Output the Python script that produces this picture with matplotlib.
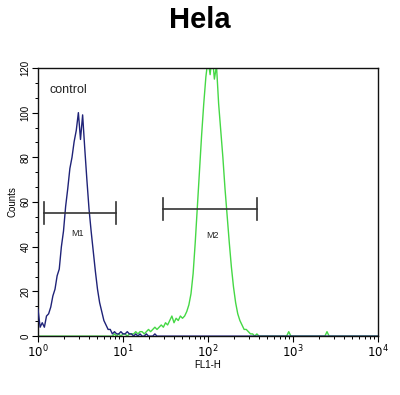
import numpy as np
import matplotlib
matplotlib.use("Agg")
import matplotlib.pyplot as plt
from matplotlib.ticker import MultipleLocator, LogLocator, NullFormatter, FixedLocator, FixedFormatter

# ---- data (log10 FL1-H channel positions, step 0.025) ----
step = 0.025
blue_start = 0.0
blue_counts = [12, 4, 6, 4, 9, 10, 13, 18, 21, 27, 30, 40, 47, 58, 66, 75, 80, 87, 92, 100,
               88, 99, 84, 70, 57, 47, 38, 29, 21, 15, 11, 7, 5, 3, 3, 1, 2, 1, 1, 2,
               1, 1, 2, 1, 1, 0, 1, 0, 1, 0, 0, 1, 0, 0, 0, 1, 0, 0, 0, 0, 0]
green_start = 0.9
green_counts = [1, 0, 1, 0, 1, 1, 0, 1, 1, 1, 2, 1, 2, 2, 1, 2, 3, 2, 3, 4,
                3, 4, 5, 4, 6, 5, 7, 9, 6, 8, 7, 9, 8, 9, 11, 14, 19, 28, 42, 58,
                74, 90, 104, 116, 124, 117, 126, 115, 121, 104, 92, 80, 66, 54, 42, 31, 22, 15, 10, 7,
                5, 3, 3, 2, 1, 1, 0, 1, 0]
green_blip_log = [2.95, 3.40]
green_blip_counts = [2, 2]

markers = {"M1": (0.07, 0.92, 55, 0.47, 46), "M2": (1.47, 2.58, 57, 2.05, 45)}
xtick_vals = [1, 10, 100, 1000, 10000]
xtick_labels = [r"$10^{0}$", r"$10^{1}$", r"$10^{2}$", r"$10^{3}$", r"$10^{4}$"]
ytick_vals = [0, 20, 40, 60, 80, 100, 120]

# ---- build full channel arrays ----
grid = np.round(np.arange(0, 4 + step / 2, step), 4)
blue = np.zeros_like(grid)
green = np.zeros_like(grid)
i0 = int(round(blue_start / step))
blue[i0:i0 + len(blue_counts)] = blue_counts
i0 = int(round(green_start / step))
green[i0:i0 + len(green_counts)] = green_counts
for lx, c in zip(green_blip_log, green_blip_counts):
    green[int(round(lx / step))] = c
x = 10 ** grid

fig = plt.figure(figsize=(4.0, 3.95), dpi=100)
ax = fig.add_axes([0.095, 0.149, 0.85, 0.679])

ax.plot(x, green, color="#45d845", lw=1.0, zorder=2)
ax.plot(x, blue, color="#1f2378", lw=1.0, zorder=3)

ax.set_xscale("log")
ax.set_xlim(1, 10000)
ax.set_ylim(0, 120)

for name, (a, b, y, lx, ly) in markers.items():
    xa, xb = 10 ** a, 10 ** b
    ax.plot([xa, xb], [y, y], color="#333333", lw=1.2, zorder=4)
    ax.plot([xa, xa], [y - 5, y + 5], color="#333333", lw=1.2, zorder=4)
    ax.plot([xb, xb], [y - 5, y + 5], color="#333333", lw=1.2, zorder=4)
    ax.text(10 ** lx, ly, name, fontsize=6.5, ha="center", va="center", color="#222222",
            family="Liberation Sans")

ax.text(10 ** 0.14, 110, "control", fontsize=9, ha="left", va="center", color="#222222",
        family="Liberation Sans")

ax.xaxis.set_major_locator(FixedLocator(xtick_vals))
ax.xaxis.set_major_formatter(FixedFormatter(xtick_labels))
ax.xaxis.set_minor_locator(LogLocator(base=10, subs=np.arange(2, 10)))
ax.xaxis.set_minor_formatter(NullFormatter())
ax.yaxis.set_major_locator(FixedLocator(ytick_vals))
ax.yaxis.set_minor_locator(MultipleLocator(20 / 3))

ax.tick_params(axis="both", which="major", direction="out", length=4, width=0.8,
               labelsize=8.5, pad=1.5)
ax.tick_params(axis="both", which="minor", direction="out", length=2.5, width=0.7)
for lab in ax.get_yticklabels():
    lab.set_rotation(90)
    lab.set_va("center")
    lab.set_fontsize(7)
    lab.set_family("Liberation Sans")
for lab in ax.get_xticklabels():
    lab.set_family("Liberation Sans")

for s in ax.spines.values():
    s.set_linewidth(1.0)
    s.set_color("#111111")

ax.set_xlabel("FL1-H", fontsize=7, labelpad=0, family="Liberation Sans")
ax.set_ylabel("Counts", fontsize=7, labelpad=2, family="Liberation Sans")

fig.text(0.5, 0.95, "Hela", fontsize=21, fontweight="bold", ha="center", va="center",
         family="Liberation Sans")

fig.savefig("out.png", dpi=100)
